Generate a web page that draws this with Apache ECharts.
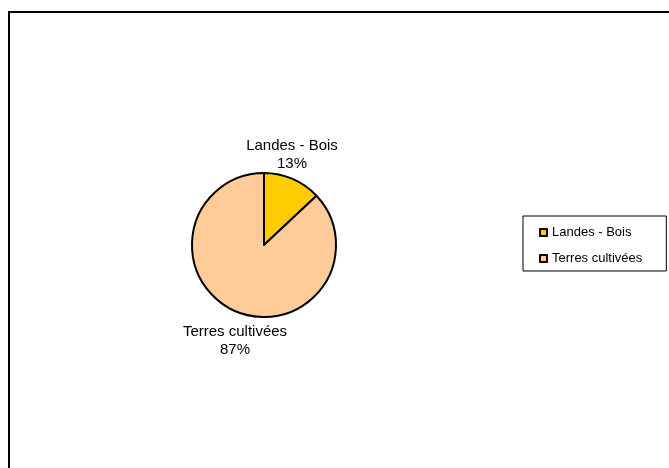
<!DOCTYPE html>
<html>
<head>
<meta charset="utf-8">
<script src="https://cdn.jsdelivr.net/npm/echarts@6/dist/echarts.min.js"></script>
<style>html,body{margin:0;padding:0;background:#fff}#c{width:669px;height:468px}</style>
</head>
<body>
<div id="c"></div>
<script>
const categories = ['Landes - Bois', 'Terres cultivées'];
const values = [13, 87];
const colors = ['#FFCC00', '#FFCC99'];
const labelPos = [[292, 155], [235, 341]];

const chart = echarts.init(document.getElementById('c'), null, {renderer: 'canvas'});
chart.setOption({
  animation: false,
  backgroundColor: '#fff',
  graphic: [{
    type: 'rect', shape: {x: 9, y: 12, width: 700, height: 500},
    style: {fill: 'none', stroke: '#000', lineWidth: 2}, silent: true, z: -1
  }],
  legend: {
    orient: 'vertical', left: 523, top: 216,
    data: categories,
    icon: 'rect', itemWidth: 7, itemHeight: 7, itemGap: 13,
    borderColor: '#000', borderWidth: 1,
    padding: [10, 24, 6, 16],
    textStyle: {fontFamily: 'Liberation Sans, Arial', fontSize: 13, color: '#000'}
  },
  series: [{
    type: 'pie',
    center: [264, 245], radius: 72,
    startAngle: 90, clockwise: true,
    data: categories.map((n, i) => ({name: n, value: values[i], itemStyle: {color: colors[i]}})),
    itemStyle: {borderColor: '#000', borderWidth: 2},
    label: {
      show: true, position: 'outside',
      formatter: p => p.name + '\n' + Math.round(p.percent) + '%',
      fontFamily: 'Liberation Sans, Arial', fontSize: 15, lineHeight: 18, color: '#000', align: 'center'
    },
    labelLine: {show: false},
    labelLayout: p => ({x: labelPos[p.dataIndex][0], y: labelPos[p.dataIndex][1], align: 'center', verticalAlign: 'middle'}),
    emphasis: {disabled: true}
  }]
});
</script>
</body>
</html>
